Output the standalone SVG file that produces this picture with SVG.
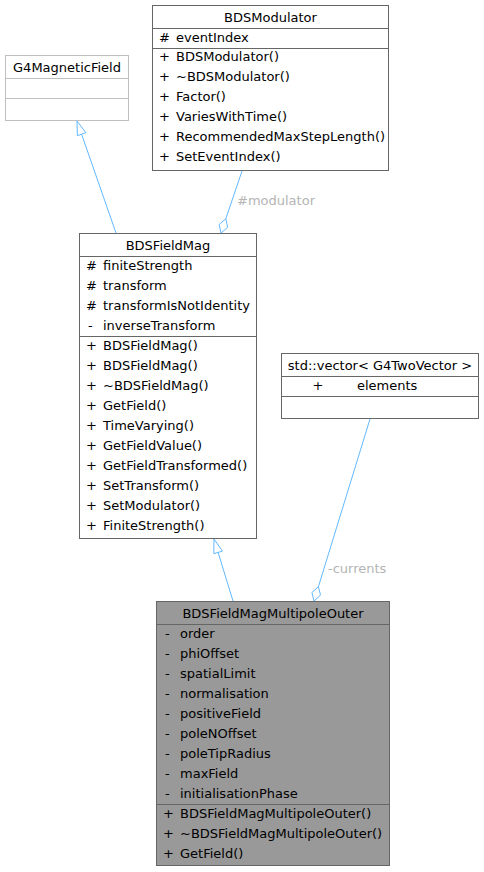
<svg xmlns="http://www.w3.org/2000/svg" width="484" height="872" viewBox="0 0 484 872">
<style>
text{font-family:"DejaVu Sans",sans-serif;font-size:13px;fill:#000}
.c{text-anchor:middle}
.box{fill:#fff;stroke:#666;stroke-width:1}
.ext{fill:#fff;stroke:#bfbfbf;stroke-width:1}
.cur{fill:#999;stroke:#666;stroke-width:1}
.sep{stroke:#666;stroke-width:1}
.sepx{stroke:#bfbfbf;stroke-width:1}
.edge{fill:none;stroke:#63b8ff;stroke-width:1}
.head{fill:#fff;stroke:#63b8ff;stroke-width:1}
.lbl{fill:#b4b4b4}
</style>
<rect width="484" height="872" fill="#fff"/>
<g id="connectors">
<path class="edge" d="M116,233 L81.6,134.2"/>
<polygon class="head" points="77,121 85.85,132.7 77.35,135.7"/>
<path class="edge" d="M242,171 L225.8,218.8"/>
<polygon class="head" points="221,233 219.1,224.5 225.8,218.8 227.7,227.3"/>
<text class="lbl" x="237" y="205">#modulator</text>
<path class="edge" d="M233,601 L218.1,552.4"/>
<polygon class="head" points="214,539 222.4,551.1 213.8,553.7"/>
<path class="edge" d="M370,419 L318.4,586.7"/>
<polygon class="head" points="314,601 311.9,592.5 318.4,586.7 320.5,595.1"/>
<text class="lbl" x="328" y="573">-currents</text>
</g>
<g id="BDSModulator">
<rect class="box" x="152.5" y="5.5" width="236" height="165"/>
<line class="sep" x1="152.5" y1="28.5" x2="388.5" y2="28.5"/>
<line class="sep" x1="152.5" y1="48.5" x2="388.5" y2="48.5"/>
<text class="c" x="270.5" y="22">BDSModulator</text>
<text x="159" y="42">#</text><text x="176" y="42">eventIndex</text>
<text x="159" y="61">+</text><text x="176" y="61">BDSModulator()</text>
<text x="159" y="81">+</text><text x="176" y="81">~BDSModulator()</text>
<text x="159" y="101">+</text><text x="176" y="101">Factor()</text>
<text x="159" y="121">+</text><text x="176" y="121">VariesWithTime()</text>
<text x="159" y="141">+</text><text x="176" y="141">RecommendedMaxStepLength()</text>
<text x="159" y="161">+</text><text x="176" y="161">SetEventIndex()</text>
</g>
<g id="G4MagneticField">
<rect class="ext" x="5.5" y="55.5" width="123" height="65"/>
<line class="sepx" x1="5.5" y1="78.5" x2="128.5" y2="78.5"/>
<line class="sepx" x1="5.5" y1="98.5" x2="128.5" y2="98.5"/>
<text class="c" x="67" y="72">G4MagneticField</text>
</g>
<g id="BDSFieldMag">
<rect class="box" x="79.5" y="233.5" width="177" height="305"/>
<line class="sep" x1="79.5" y1="256.5" x2="256.5" y2="256.5"/>
<line class="sep" x1="79.5" y1="336.5" x2="256.5" y2="336.5"/>
<text class="c" x="168" y="250">BDSFieldMag</text>
<text x="86" y="270">#</text><text x="103" y="270">finiteStrength</text>
<text x="86" y="290">#</text><text x="103" y="290">transform</text>
<text x="86" y="310">#</text><text x="103" y="310">transformIsNotIdentity</text>
<text x="88" y="330">-</text><text x="103" y="330">inverseTransform</text>
<text x="86" y="350">+</text><text x="103" y="350">BDSFieldMag()</text>
<text x="86" y="370">+</text><text x="103" y="370">BDSFieldMag()</text>
<text x="86" y="390">+</text><text x="103" y="390">~BDSFieldMag()</text>
<text x="86" y="410">+</text><text x="103" y="410">GetField()</text>
<text x="86" y="430">+</text><text x="103" y="430">TimeVarying()</text>
<text x="86" y="450">+</text><text x="103" y="450">GetFieldValue()</text>
<text x="86" y="470">+</text><text x="103" y="470">GetFieldTransformed()</text>
<text x="86" y="490">+</text><text x="103" y="490">SetTransform()</text>
<text x="86" y="510">+</text><text x="103" y="510">SetModulator()</text>
<text x="86" y="530">+</text><text x="103" y="530">FiniteStrength()</text>
</g>
<g id="stdvector">
<rect class="box" x="281.5" y="353.5" width="197" height="65"/>
<line class="sep" x1="281.5" y1="376.5" x2="478.5" y2="376.5"/>
<line class="sep" x1="281.5" y1="396.5" x2="478.5" y2="396.5"/>
<text class="c" x="380" y="370">std::vector&lt; G4TwoVector &gt;</text>
<text class="c" x="318" y="390">+</text><text x="357" y="390">elements</text>
</g>
<g id="BDSFieldMagMultipoleOuter">
<rect class="cur" x="156.5" y="601.5" width="233" height="264"/>
<line class="sep" x1="156.5" y1="624.5" x2="389.5" y2="624.5"/>
<line class="sep" x1="156.5" y1="804.5" x2="389.5" y2="804.5"/>
<text class="c" x="273" y="618">BDSFieldMagMultipoleOuter</text>
<text x="165" y="638">-</text><text x="180" y="638">order</text>
<text x="165" y="658">-</text><text x="180" y="658">phiOffset</text>
<text x="165" y="678">-</text><text x="180" y="678">spatialLimit</text>
<text x="165" y="698">-</text><text x="180" y="698">normalisation</text>
<text x="165" y="718">-</text><text x="180" y="718">positiveField</text>
<text x="165" y="738">-</text><text x="180" y="738">poleNOffset</text>
<text x="165" y="758">-</text><text x="180" y="758">poleTipRadius</text>
<text x="165" y="778">-</text><text x="180" y="778">maxField</text>
<text x="165" y="798">-</text><text x="180" y="798">initialisationPhase</text>
<text x="163" y="818">+</text><text x="180" y="818">BDSFieldMagMultipoleOuter()</text>
<text x="163" y="838">+</text><text x="180" y="838">~BDSFieldMagMultipoleOuter()</text>
<text x="163" y="858">+</text><text x="180" y="858">GetField()</text>
</g>
</svg>
